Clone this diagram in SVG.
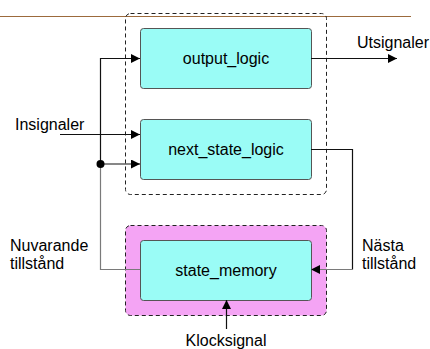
<svg xmlns="http://www.w3.org/2000/svg" width="430" height="349" viewBox="0 0 430 349">
  <style>
    .blk { fill: #9afcf6; stroke: #555; stroke-width: 1; }
    .grp { fill: none; stroke: #222; stroke-width: 1; stroke-dasharray: 4 3; }
    .mem { fill: #f4a4f4; stroke: #222; stroke-width: 1; stroke-dasharray: 4 3; }
    .lbl { font-family: "Liberation Sans", Arial, sans-serif; font-size: 16px; fill: #000; text-anchor: middle; }
    .sig { font-family: "Liberation Sans", Arial, sans-serif; font-size: 16px; fill: #000; }
    .wire { fill: none; stroke: #111; stroke-width: 1.2; }
    .wire2 { fill: none; stroke: #7a7a7a; stroke-width: 1.2; }
  </style>
  <defs>
    <marker id="arrow" viewBox="0 0 10 10" refX="10" refY="5" markerWidth="9" markerHeight="9" markerUnits="userSpaceOnUse" orient="auto">
      <path d="M0,0 L10,5 L0,10 Z" fill="#000"/>
    </marker>
  </defs>
  <rect width="430" height="349" fill="#fff"/>

  <!-- header rule -->
  <line x1="0" y1="16.5" x2="411" y2="16.5" stroke="#9c6a3c" stroke-width="1.2"/>

  <!-- combinational group boundary -->
  <g id="comb_group">
    <rect class="grp" x="125.5" y="13.5" width="201" height="181" rx="5"/>
  </g>

  <!-- memory group -->
  <g id="memory_group">
    <rect class="mem" x="125.5" y="225.5" width="201" height="90" rx="5"/>
  </g>

  <g id="output_logic">
    <rect class="blk" x="140.5" y="28.5" width="171" height="60" rx="3"/>
    <text class="lbl" x="226" y="64">output_logic</text>
  </g>

  <g id="next_state_logic">
    <rect class="blk" x="140.5" y="119.5" width="171" height="60" rx="3"/>
    <text class="lbl" x="226" y="155">next_state_logic</text>
  </g>

  <g id="state_memory">
    <rect class="blk" x="140.5" y="240.5" width="171" height="60" rx="3"/>
    <text class="lbl" x="226" y="276">state_memory</text>
  </g>

  <g id="connectors">
    <!-- current state feedback -->
    <path class="wire2" d="M140,269.5 H100.5 V164"/>
    <path class="wire" d="M100.5,164 V58.5 H140" marker-end="url(#arrow)"/>
    <path class="wire" d="M100.5,164 H140" marker-end="url(#arrow)"/>
    <circle cx="100.5" cy="164" r="4" fill="#000"/>
    <!-- inputs -->
    <path class="wire" d="M60,134.5 H140" marker-end="url(#arrow)"/>
    <!-- outputs -->
    <path class="wire" d="M311,58.5 H397" marker-end="url(#arrow)"/>
    <!-- next state -->
    <path class="wire" d="M311,149.5 H352.5 V269.5"/>
    <path class="wire2" d="M352.5,269.5 H311" marker-end="url(#arrow)"/>
    <!-- clock -->
    <path class="wire" d="M226.5,329 V300" marker-end="url(#arrow)"/>
  </g>

  <g id="labels">
    <text class="sig" x="357" y="48">Utsignaler</text>
    <text class="sig" x="15" y="130">Insignaler</text>
    <text class="sig" x="10" y="251">Nuvarande</text>
    <text class="sig" x="10" y="269">tillstånd</text>
    <text class="sig" x="362" y="251">Nästa</text>
    <text class="sig" x="362" y="269">tillstånd</text>
    <text class="sig" x="226" y="346" text-anchor="middle">Klocksignal</text>
  </g>
</svg>
